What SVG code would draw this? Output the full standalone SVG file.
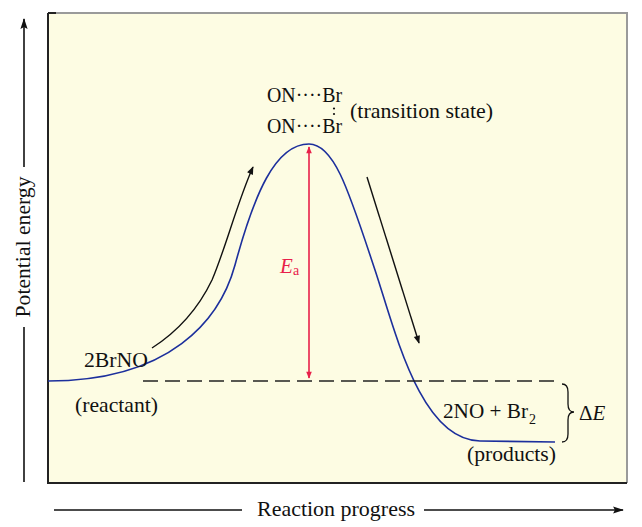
<svg xmlns="http://www.w3.org/2000/svg" width="642" height="527" viewBox="0 0 642 527">
<style>
.t{font-family:"Liberation Serif","Times New Roman",serif;font-size:21px;fill:#111}
.ax{stroke:#111;stroke-width:1.6;fill:none}
.red{stroke:#e8204a;stroke-width:1.6;fill:none}
.blk{stroke:#111;stroke-width:1.4;fill:none}
</style>
<defs>
<marker id="ah" viewBox="0 0 10 10" refX="9" refY="5" markerWidth="10" markerHeight="8" markerUnits="userSpaceOnUse" orient="auto">
<path d="M0,1 L10,5 L0,9 z" fill="#111"/>
</marker>
<marker id="axh" viewBox="0 0 12 10" refX="11" refY="5" markerWidth="12" markerHeight="9" markerUnits="userSpaceOnUse" orient="auto">
<path d="M0,1 L12,5 L0,9 L2,5 z" fill="#111"/>
</marker>
<marker id="rh" viewBox="0 0 10 10" refX="9" refY="5" markerWidth="10" markerHeight="7" markerUnits="userSpaceOnUse" orient="auto-start-reverse">
<path d="M0,1 L10,5 L0,9 z" fill="#e8204a"/>
</marker>
</defs>
<rect width="642" height="527" fill="#ffffff"/>
<g id="frame">
<rect x="48" y="13" width="579" height="470" fill="#fdfce3"/>
<path d="M48,13 L627,13 L627,483" stroke="#9a9a9a" stroke-width="2" fill="none"/>
<path d="M48,13 L48,483 L627,483" stroke="#222" stroke-width="2" fill="none"/>
<path d="M48,13 L56,13" stroke="#222" stroke-width="2"/>
</g>
<g id="axes">
<path class="ax" d="M24,167 L24,19" marker-end="url(#axh)"/>
<path class="ax" d="M24,327 L24,482"/>
<text class="t" transform="translate(30,247) rotate(-90)" text-anchor="middle" textLength="141" lengthAdjust="spacingAndGlyphs">Potential energy</text>
<path class="ax" d="M54,510 L242,510"/>
<path class="ax" d="M424,510 L623,510" marker-end="url(#axh)"/>
<text class="t" x="257" y="516" textLength="158" lengthAdjust="spacingAndGlyphs">Reaction progress</text>
</g>
<g id="connectors">
<path id="energy-curve" d="M48,381 C170,381 220,320 235,265 C254,195 275,144 309,144 C335,144 350,195 375,270 C395,330 420,440 480,441 L555,442" stroke="#1c2f9c" stroke-width="1.6" fill="none"/>
<path id="reactant-level" d="M143,381 L555,381" stroke="#222" stroke-width="1.6" stroke-dasharray="15 7" fill="none"/>
<path id="ea-arrow" class="red" d="M309,147 L309,378" marker-start="url(#rh)" marker-end="url(#rh)"/>
<path id="up-arrow" class="blk" d="M152,348 C180,330 200,305 212,280 C225,250 238,200 253,167" marker-end="url(#ah)"/>
<path id="down-arrow" class="blk" d="M367,177 L419,343" marker-end="url(#ah)"/>
<path id="delta-brace" d="M562,384 Q568,384 568,392 L568,404 Q568,412 574,412 Q568,412 568,420 L568,434 Q568,442 562,442" stroke="#111" stroke-width="1.3" fill="none"/>
</g>
<g id="transition-state">
<text class="t" x="267" y="102" textLength="75" lengthAdjust="spacingAndGlyphs">ON····Br</text>
<circle cx="334" cy="108.5" r="1.1" fill="#111"/>
<circle cx="334" cy="114" r="1.1" fill="#111"/>
<text class="t" x="267" y="133" textLength="75" lengthAdjust="spacingAndGlyphs">ON····Br</text>
<text class="t" x="350" y="118" textLength="143" lengthAdjust="spacingAndGlyphs">(transition state)</text>
</g>
<g id="reactant">
<text class="t" x="84" y="367" textLength="64" lengthAdjust="spacingAndGlyphs">2BrNO</text>
<text class="t" x="75" y="412" textLength="83" lengthAdjust="spacingAndGlyphs">(reactant)</text>
</g>
<g id="products">
<text class="t" x="443" y="418" textLength="85" lengthAdjust="spacingAndGlyphs">2NO + Br</text>
<text class="t" x="529" y="424" style="font-size:14px">2</text>
<text class="t" x="467" y="461" textLength="89" lengthAdjust="spacingAndGlyphs">(products)</text>
</g>
<g id="activation-energy">
<text class="t" x="280" y="273" style="fill:#e8204a;font-style:italic">E</text>
<text class="t" x="293" y="275" style="fill:#e8204a;font-size:14px">a</text>
</g>
<g id="delta-e">
<text class="t" x="579" y="420">Δ<tspan style="font-style:italic">E</tspan></text>
</g>
</svg>
